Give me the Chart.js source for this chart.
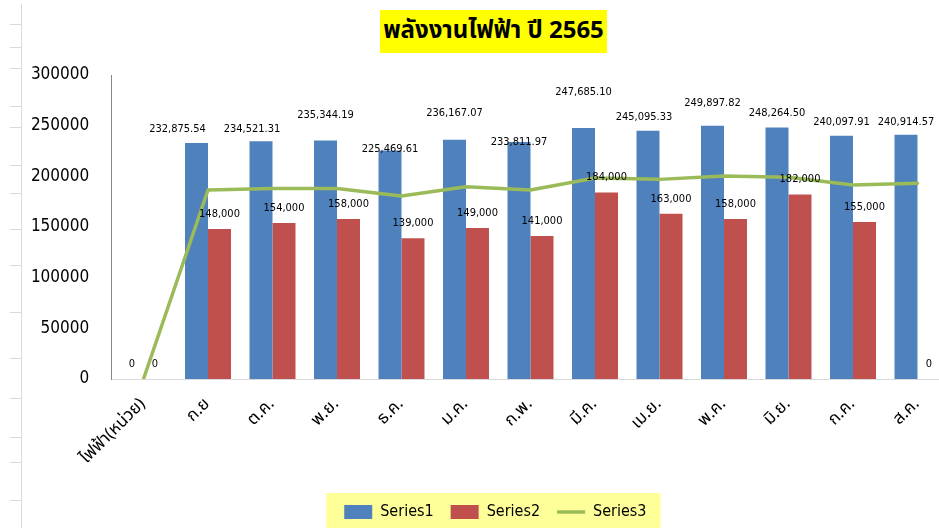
<!DOCTYPE html>
<html lang="th">
<head>
<meta charset="utf-8">
<title>พลังงานไฟฟ้า ปี 2565</title>
<script src="https://cdn.jsdelivr.net/npm/chart.js@4.4.1/dist/chart.umd.min.js"></script>
<style>
  html, body { margin: 0; padding: 0; background: #fff; overflow: hidden; width: 939px; height: 528px; }
  #wrap { position: relative; width: 939px; height: 528px; overflow: hidden; }
  #chart { position: absolute; left: 0; top: 0; }
  #title {
    position: absolute; left: 380px; top: 10px; width: 227px; height: 43px;
    background: #ffff00; color: #000; font-weight: bold; font-size: 24px;
    font-family: Tahoma, "Noto Sans Thai", "Loma", "Garuda", "DejaVu Sans", sans-serif;
    line-height: 43px; text-align: center; white-space: nowrap;
  }
  #sheet { position: absolute; left: 21px; top: 4px; width: 1px; height: 524px; background: #d9d9d9; }
  .row { position: absolute; left: 10px; width: 11px; height: 1px; background: #d9d9d9; }
</style>
</head>
<body>
<div id="wrap">
  <div id="sheet"></div>
  <canvas id="chart" width="991" height="528"></canvas>
  <div id="title">พลังงานไฟฟ้า ปี 2565</div>
</div>
<script>
// ---- data ----
const months = ['ไฟฟ้า(หน่วย)', 'ก.ย', 'ต.ค.', 'พ.ย.', 'ธ.ค.', 'ม.ค.', 'ก.พ.', 'มี.ค.', 'เม.ย.', 'พ.ค.', 'มิ.ย.', 'ก.ค.', 'ส.ค.'];
const series1 = [0, 232875.54, 234521.31, 235344.19, 225469.61, 236167.07, 233811.97, 247685.10, 245095.33, 249897.82, 248264.50, 240097.91, 240914.57];
const series2 = [0, 148000, 154000, 158000, 139000, 149000, 141000, 184000, 163000, 158000, 182000, 155000, 0];
const series3 = [0, 186500, 188000, 188000, 180500, 189800, 186500, 198300, 197000, 200300, 199000, 191400, 193100];
const yTicks = [0, 50000, 100000, 150000, 200000, 250000, 300000];

// Series1 labels were dragged around in the original, so nudge them (px above bar top / px sideways)
const s1LabelLift = [15, 14, 12, 25, 1, 27, 0, 36, 13, 23, 14, 14, 13];
const s1LabelShiftX = [0, -19, -9, 0, 0, 0, 0, 0, -4, 0, 0, 0, 0];

// spreadsheet row lines peeking in at the left edge
const sheetRowsY = [24, 47, 68, 106, 127, 165, 193, 229, 265, 312, 358, 398, 437, 462, 500];
sheetRowsY.forEach(y => {
    const d = document.createElement('div');
    d.className = 'row';
    d.style.top = y + 'px';
    document.getElementById('wrap').appendChild(d);
});

const BLUE = '#4f81bd', RED = '#c0504d', GREEN = '#9bbb59';
const NUM_FONT = '"DejaVu Sans Condensed", "DejaVu Sans", sans-serif';
const THAI_FONT = 'Tahoma, "Noto Sans Thai", Loma, Garuda, "DejaVu Sans", sans-serif';

const fmt2 = new Intl.NumberFormat('en-US', { minimumFractionDigits: 2, maximumFractionDigits: 2 });
const fmt0 = new Intl.NumberFormat('en-US', { maximumFractionDigits: 0 });

const valueLabels = {
    id: 'valueLabels',
    afterDatasetsDraw(chart) {
        const ctx = chart.ctx;
        ctx.save();
        ctx.font = '11px ' + NUM_FONT;
        ctx.fillStyle = '#000';
        ctx.textAlign = 'center';
        ctx.textBaseline = 'middle';
        chart.getDatasetMeta(0).data.forEach((bar, i) => {
            const txt = series1[i] === 0 ? '0' : fmt2.format(series1[i]);
            ctx.fillText(txt, bar.x + s1LabelShiftX[i], bar.y - s1LabelLift[i]);
        });
        chart.getDatasetMeta(1).data.forEach((bar, i) => {
            ctx.fillText(fmt0.format(series2[i]), bar.x, bar.y - 15);
        });
        ctx.restore();
    }
};

// the legend sits a little right of the canvas centre in the original
const legendNudge = {
    id: 'legendNudge',
    afterLayout(chart) {
        if (!chart.legend) return;
        chart.legend.left += 20.5;
        chart.legend.right += 20.5;
    }
};

const legendBackground = {
    id: 'legendBackground',
    beforeDraw(chart) {
        const lg = chart.legend;
        if (!lg || !lg.legendHitBoxes || !lg.legendHitBoxes.length) return;
        const boxes = lg.legendHitBoxes;
        const left = Math.min(...boxes.map(b => b.left));
        const right = Math.max(...boxes.map(b => b.left + b.width));
        const mid = boxes[0].top + boxes[0].height / 2;
        const ctx = chart.ctx;
        ctx.save();
        ctx.fillStyle = '#ffff99';
        ctx.fillRect(left - 18, mid - 19, right - left + 32, 36);
        ctx.restore();
    }
};

const ctx = document.getElementById('chart').getContext('2d');
const chart = new Chart(ctx, {
    type: 'bar',
    data: {
        labels: months,
        datasets: [
            { label: 'Series1', data: series1, backgroundColor: BLUE, pointStyle: 'rect', order: 1 },
            { label: 'Series2', data: series2, backgroundColor: RED, pointStyle: 'rect', order: 1 },
            {
                type: 'line', label: 'Series3', data: series3,
                borderColor: GREEN, backgroundColor: GREEN, borderWidth: 3.5,
                pointRadius: 0, pointHoverRadius: 0, pointStyle: 'line',
                tension: 0, fill: false, borderJoinStyle: 'round', borderCapStyle: 'round',
                order: 0
            }
        ]
    },
    options: {
        responsive: false,
        animation: false,
        layout: { padding: { left: 0, right: 41.25, top: 75, bottom: -2 } },
        datasets: {
            bar: { categoryPercentage: 0.713, barPercentage: 1 }
        },
        scales: {
            x: {
                offset: true,
                grid: { display: false, drawTicks: false },
                border: { display: true, color: '#d9d9d9', width: 1 },
                ticks: {
                    minRotation: 45, maxRotation: 45, autoSkip: false, padding: 16,
                    color: '#000', font: { family: THAI_FONT, size: 17 }
                },
                afterFit: (s) => { s.height = 108; }
            },
            y: {
                min: 0, max: 300000,
                afterBuildTicks: (s) => { s.ticks = yTicks.map(v => ({ value: v })); },
                grid: { display: false, drawTicks: false },
                border: { display: true, color: '#868686', width: 1 },
                ticks: {
                    padding: 22, color: '#000',
                    font: { family: NUM_FONT, size: 17 },
                    callback: (v) => String(v)
                },
                afterFit: (s) => { s.width = 111.25; }
            }
        },
        plugins: {
            title: { display: false },
            tooltip: { enabled: false },
            legend: {
                position: 'bottom',
                labels: {
                    usePointStyle: true, pointStyleWidth: 28, boxHeight: 14,
                    padding: 17, color: '#000',
                    font: { family: NUM_FONT, size: 16 },
                    sort: (a, b) => a.datasetIndex - b.datasetIndex
                }
            }
        }
    },
    plugins: [legendNudge, legendBackground, valueLabels]
});
</script>
</body>
</html>
